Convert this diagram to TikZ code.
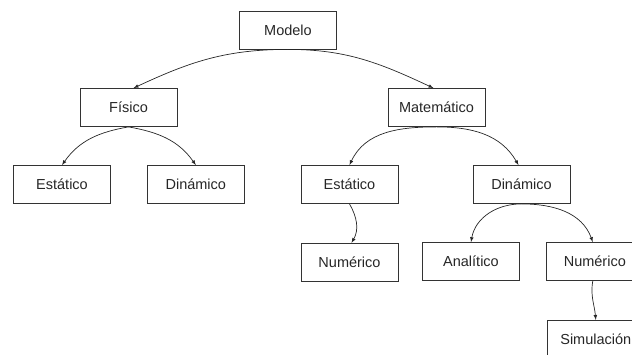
\documentclass[tikz,border=0pt]{standalone}
\usepackage{fontspec}
\setmainfont{Liberation Sans}
\usepackage{tikz}
\usetikzlibrary{shapes, arrows, positioning}
\tikzstyle{caja} = [draw=black!80, line width=0.8pt, rectangle, minimum width=97pt, minimum height=38pt, inner sep=0pt, text=black!85, font=\fontsize{14.5}{17}\selectfont]
\tikzstyle{flecha} = [-latex, line width=0.7pt, draw=black!85]

\begin{document}
\begin{tikzpicture}[x=1pt, y=1pt]
	\useasboundingbox (0,0) rectangle (632,-355);
	\clip (0,0) rectangle (632,-355);
	\node [caja] (modelo) at (288,-30) {Modelo};
	\node [caja] (fisico) at (128.5,-107.5) {Físico};
	\node [caja] (matematico) at (436.5,-107.5) {Matemático};
	\node [caja] (estaticoF) at (62,-184.5) {Estático};
	\node [caja, right=36pt of estaticoF] (dinamicoF) {Dinámico};
	\node [caja] (estaticoM) at (349.5,-184.5) {Estático};
	\node [caja] (dinamicoM) at (521.5,-184.5) {Dinámico};
	\node [caja, below=39pt of estaticoM] (numericoE) {Numérico};
	\node [caja] (analitico) at (471,-261.5) {Analítico};
	\node [caja, right=26pt of analitico] (numericoD) {Numérico};
	\node [caja, below=39pt of numericoD, xshift=1pt] (simulacion) {Simulación};
	\draw [flecha] (modelo.south) to [out=180, in=25] ([xshift=5pt]fisico.north);
	\draw [flecha] (modelo.south) to [out=0, in=155] ([xshift=-3pt]matematico.north);
	\draw [flecha] (fisico.south) to [out=190, in=55] (estaticoF.north);
	\draw [flecha] (fisico.south) to [out=-10, in=125] (dinamicoF.north);
	\draw [flecha] (matematico.south) to [out=180, in=65] (estaticoM.north);
	\draw [flecha] (matematico.south) to [out=0, in=120] ([xshift=-3pt]dinamicoM.north);
	\draw [flecha] (estaticoM.south) to [out=-60, in=60] ([xshift=2pt]numericoE.north);
	\draw [flecha] (dinamicoM.south) to [out=180, in=80] (analitico.north);
	\draw [flecha] (dinamicoM.south) to [out=0, in=110] ([xshift=-2pt]numericoD.north);
	\draw [flecha] ([xshift=-2pt]numericoD.south) to [out=-100, in=95] (simulacion.north);
\end{tikzpicture}
\end{document}
